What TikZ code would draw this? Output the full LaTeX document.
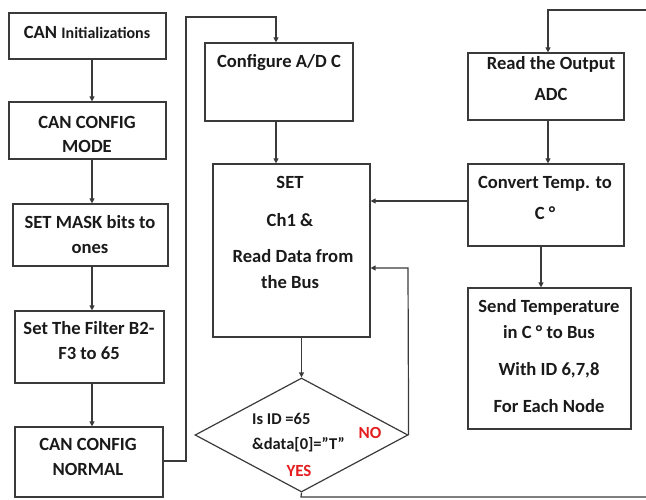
\documentclass[tikz,border=0pt]{standalone}
\usepackage{fontspec}
\setmainfont{Carlito}
\usetikzlibrary{shapes.geometric,arrows.meta}
\begin{document}
\begin{tikzpicture}[x=1pt,y=-1pt,
  box/.style={draw=linec,line width=1.2pt,inner sep=0pt,rectangle},
  lbl/.style={anchor=base,inner sep=0pt,font=\fontsize{18.6}{21}\selectfont\bfseries,text=txtc},
  dlbl/.style={lbl,anchor=base west,font=\fontsize{16.5}{19}\selectfont\bfseries},
  redlbl/.style={lbl,text=redc},
  arr/.style={draw=linec,line width=1.2pt,-{Triangle[length=5pt,width=5pt]}},
  ln/.style={draw=linec,line width=1.2pt}]
\definecolor{linec}{HTML}{3A3A3A}
\definecolor{txtc}{HTML}{1A1A1A}
\definecolor{redc}{HTML}{E41E1E}
\useasboundingbox (0,0) rectangle (646,500);
% left column boxes
\node[box,minimum width=157pt,minimum height=46pt] (b1) at (87.5,36) {};
\node[box,minimum width=157pt,minimum height=57pt] (b2) at (87.5,130.5) {};
\node[box,minimum width=155pt,minimum height=62pt] (b3) at (90.5,235) {};
\node[box,minimum width=149pt,minimum height=72pt] (b4) at (89.5,347) {};
\node[box,minimum width=148pt,minimum height=70pt] (b5) at (89,462) {};
% middle
\node[box,minimum width=148pt,minimum height=78pt] (b6) at (279,82) {};
\node[box,minimum width=157pt,minimum height=173pt] (b7) at (291.5,250.5) {};
\node[draw=linec,line width=1.2pt,diamond,inner sep=0pt,minimum width=213pt,minimum height=114pt] (dia) at (301.5,435) {};
% right
\node[box,minimum width=156pt,minimum height=67pt] (b8) at (546,86.5) {};
\node[box,minimum width=156pt,minimum height=82pt] (b9) at (546,205) {};
\node[box,minimum width=163pt,minimum height=141pt] (b10) at (549.5,358.5) {};
% texts
\node[lbl] (t1) at (87,38.5) {CAN {\fontsize{16}{18}\selectfont Initializations}};
\node[lbl] (t2a) at (87,128.5) {CAN CONFIG};
\node[lbl] (t2b) at (87,152.5) {MODE};
\node[lbl] (t3a) at (90,228.5) {SET MASK bits to};
\node[lbl] (t3b) at (90,253.5) {ones};
\node[lbl] (t4a) at (89,334.5) {Set The Filter B2-};
\node[lbl] (t4b) at (89,359.5) {F3 to 65};
\node[lbl] (t5a) at (88,450.5) {CAN CONFIG};
\node[lbl] (t5b) at (88,475.5) {NORMAL};
\node[lbl] (t6) at (279,67.5) {Configure A/D C};
\node[lbl] (t7a) at (290,188.5) {SET};
\node[lbl] (t7b) at (290,226.5) {Ch1 \&};
\node[lbl] (t7c) at (293,262.5) {Read Data from};
\node[lbl] (t7d) at (290,288.5) {the Bus};
\node[dlbl] (t8a) at (252,424) {Is ID =65};
\node[dlbl] (t8b) at (252,449) {\&data[0]=”T”};
\node[redlbl,font=\fontsize{17}{19}\selectfont\bfseries] (tno) at (370,438) {NO};
\node[redlbl,font=\fontsize{17}{19}\selectfont\bfseries] (tyes) at (299,476) {YES};
\node[lbl] (t9a) at (551,69.5) {Read the Output};
\node[lbl] (t9b) at (551,100.5) {ADC};
\node[lbl] (t10a) at (545,188.5) {Convert Temp. to};
\node[lbl] (t10b) at (545,219.5) {C °};
\node[lbl] (t11a) at (549,312.5) {Send Temperature};
\node[lbl] (t11b) at (549,338.5) {in C ° to Bus};
\node[lbl] (t11c) at (549,375.5) {With ID 6,7,8};
\node[lbl] (t11d) at (549,412.5) {For Each Node};
% helper coordinates
\coordinate (xl) at (92,0);
\coordinate (c1) at (186,461);
\coordinate (c2) at (186,17);
\coordinate (c3) at (276,17);
\coordinate (c4) at (408,268);
\coordinate (c5) at (301,497);
\coordinate (c6) at (646,497);
\coordinate (c7) at (646,10);
\coordinate (c8) at (548,10);
% connectors
\draw[arr] (b1.south -| xl) -- (b2.north -| xl);
\draw[arr] (b2.south -| xl) -- (b3.north -| xl);
\draw[arr] (b3.south -| xl) -- (b4.north -| xl);
\draw[arr] (b4.south -| xl) -- (b5.north -| xl);
\draw[arr] (b5.east |- c1) -- (c1) -- (c2) -- (c3) -- (b6.north -| c3);
\draw[arr] (b6.south -| c3) -- (b7.north -| c3);
\draw[arr] (b7.south -| dia.north) -- (dia.north);
\draw[arr] (dia.east) -- (c4) -- (b7.east |- c4);
\draw[ln] (dia.south) -- (c5) -- (c6);
\draw[arr] (c7) -- (c8) -- (b8.north -| c8);
\draw[arr] (b8.south -| c8) -- (b9.north -| c8);
\draw[arr] (b9.south -| 541,0) -- (b10.north -| 541,0);
\draw[arr] (b9.west |- 0,201) -- (b7.east |- 0,201);
\end{tikzpicture}
\end{document}
